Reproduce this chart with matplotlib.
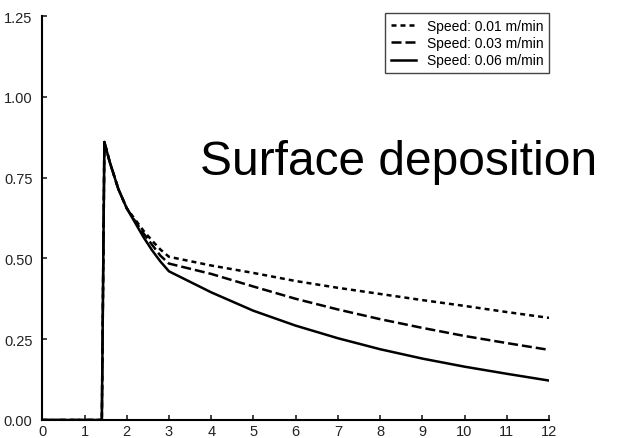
import matplotlib
matplotlib.use("Agg")
import matplotlib.pyplot as plt

plt.rcParams['font.family'] = ['Liberation Sans', 'DejaVu Sans']

# Shared data
x_vals = [0.0, 1.41, 1.47, 1.6, 1.8, 2.0, 2.2, 2.4, 2.6, 2.8, 3.0,
          4, 5, 6, 7, 8, 9, 10, 11, 12]
y_speed_001 = [0.0, 0.0, 0.86, 0.797, 0.715, 0.655, 0.62, 0.585, 0.555, 0.527, 0.505,
               0.478, 0.455, 0.43, 0.409, 0.39, 0.371, 0.353, 0.334, 0.316]
y_speed_003 = [0.0, 0.0, 0.86, 0.797, 0.715, 0.655, 0.615, 0.577, 0.542, 0.508, 0.484,
               0.452, 0.413, 0.375, 0.342, 0.312, 0.285, 0.26, 0.238, 0.217]
y_speed_006 = [0.0, 0.0, 0.86, 0.797, 0.715, 0.655, 0.61, 0.565, 0.525, 0.49, 0.46,
               0.395, 0.338, 0.292, 0.253, 0.219, 0.19, 0.165, 0.143, 0.122]
labels = ["Speed: 0.01 m/min", "Speed: 0.03 m/min", "Speed: 0.06 m/min"]
x_ticks = list(range(0, 13))
y_ticks = [0.0, 0.25, 0.5, 0.75, 1.0, 1.25]
annotation = "Surface deposition"

W, H = 643, 439
fig = plt.figure(figsize=(W / 100, H / 100), dpi=100)
ax = fig.add_axes([42.3 / W, (H - 421) / H, (549 - 42.3) / W, (421 - 17) / H])

lw = 1.8
ax.plot(x_vals, y_speed_001, color='black', lw=lw, linestyle=(0, (2.0, 1.6)), label=labels[0])
ax.plot(x_vals, y_speed_003, color='black', lw=lw, linestyle=(0, (4.0, 1.6)), label=labels[1])
ax.plot(x_vals, y_speed_006, color='black', lw=lw, linestyle='-', label=labels[2])

ax.set_xlim(0, 12)
ax.set_ylim(0, 1.25)
ax.set_xticks(x_ticks)
ax.set_xticklabels([str(t) for t in x_ticks])
ax.set_yticks(y_ticks)
ax.set_yticklabels([f"{t:.2f}" for t in y_ticks])

for s in ['top', 'right']:
    ax.spines[s].set_visible(False)
for s in ['left', 'bottom']:
    ax.spines[s].set_linewidth(1.5)
    ax.spines[s].set_color('black')
ax.tick_params(axis='both', direction='in', length=3.5, width=1.2, labelsize=10.5, colors='#222222')
ax.tick_params(axis='y', pad=7)
ax.tick_params(axis='x', pad=3)

leg = ax.legend(loc='upper right', bbox_to_anchor=(549 / W, (H - 14) / H),
                bbox_transform=fig.transFigure, borderaxespad=0, fontsize=10,
                handlelength=1.8, handletextpad=0.8, labelspacing=0.25,
                borderpad=0.4, fancybox=False, framealpha=1)
leg.get_frame().set_edgecolor('#444444')
leg.get_frame().set_linewidth(1.0)

fig.text(200 / W, (H - 175) / H, annotation, fontsize=34.5, ha='left', va='baseline', color='black')

fig.savefig('out.png', dpi=100)
